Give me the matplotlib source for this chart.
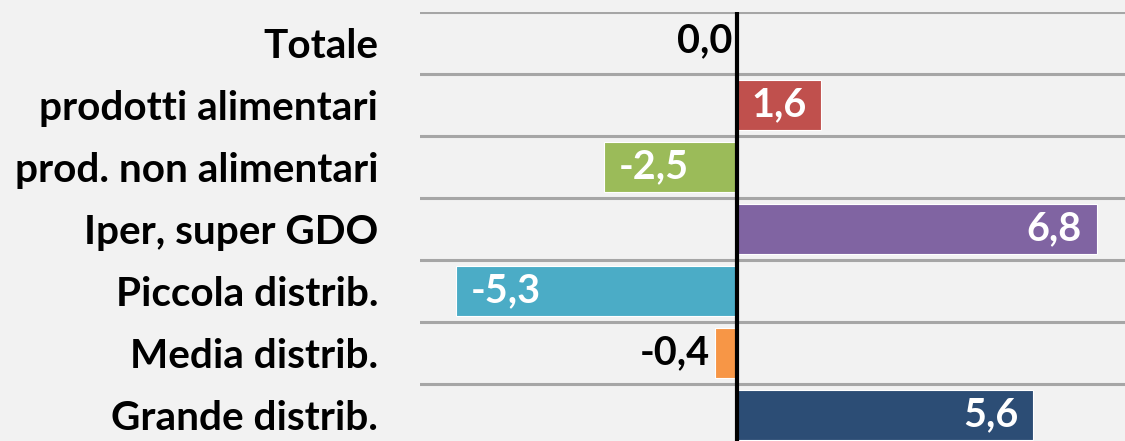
import matplotlib
matplotlib.use("Agg")
import matplotlib.pyplot as plt

categories = ["Totale", "prodotti alimentari", "prod. non alimentari", "Iper, super GDO",
              "Piccola distrib.", "Media distrib.", "Grande distrib."]
values = [0.0, 1.6, -2.5, 6.8, -5.3, -0.4, 5.6]
colors = ["#4F81BD", "#C0504D", "#9BBB59", "#8064A2", "#4BACC6", "#F79646", "#2C4D75"]

plt.rcParams['font.family'] = ['Lato', 'DejaVu Sans']

W, H = 1125, 441
fig = plt.figure(figsize=(W / 100, H / 100), dpi=100)
bg = "#F2F2F2"
fig.patch.set_facecolor(bg)

left_px, zero_px, ppu = 420, 736.5, 53.0
top_px, row_px = 12, 62
n = len(categories)
ax_h = n * row_px
ax = fig.add_axes([left_px / W, (H - top_px - ax_h) / H, (W - left_px) / W, ax_h / H])
ax.set_facecolor(bg)
ax.set_xlim((left_px - zero_px) / ppu, (W - zero_px) / ppu)
ax.set_ylim(n - 0.5, -0.5)

ypos = list(range(n))
ax.barh(ypos, values, height=0.82, color=colors, edgecolor="white", linewidth=0.8, zorder=2)

for k in range(n + 1):
    ax.axhline(k - 0.5, color="#A6A6A6", lw=2.2, zorder=1)
ax.axvline(0, color="black", lw=3, zorder=3)

for s in ax.spines.values():
    s.set_visible(False)
ax.set_xticks([])
ax.set_yticks(ypos)
ax.set_yticklabels(categories, fontsize=29.2, fontweight="bold")
ax.tick_params(axis="y", length=0, pad=30)

fs = 28.5
pad = 0.28
for y, v in zip(ypos, values):
    txt = f"{v:.1f}".replace(".", ",")
    if abs(v) < 1:
        if v < 0:
            ax.text(v - 0.11, y, txt, ha="right", va="center", fontsize=fs, fontweight="bold", color="black", zorder=4)
        else:
            ax.text(-0.07, y - 0.03, txt, ha="right", va="center", fontsize=fs, fontweight="bold", color="black", zorder=4)
    elif v > 0:
        ax.text(v - pad, y, txt, ha="right", va="center", fontsize=fs, fontweight="bold", color="white", zorder=4)
    else:
        ax.text(v + pad, y, txt, ha="left", va="center", fontsize=fs, fontweight="bold", color="white", zorder=4)

fig.savefig("out.png", dpi=100, facecolor=bg)
